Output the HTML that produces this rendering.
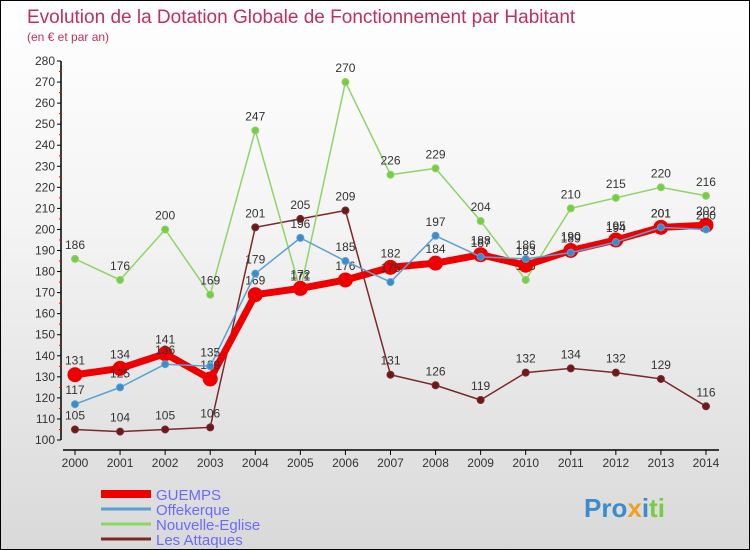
<!DOCTYPE html>
<html><head><meta charset="utf-8"><style>
body{margin:0}
#wrap{position:relative;width:748px;height:548px;border:1px solid #000;background:linear-gradient(#fff 0%,#f4f4f4 40%,#d9d9d9 100%);font-family:"Liberation Sans",sans-serif;overflow:hidden}
</style></head><body>
<div id="wrap">
<svg id="c" width="748" height="548"></svg>
</div>
<script>
const years=[2000,2001,2002,2003,2004,2005,2006,2007,2008,2009,2010,2011,2012,2013,2014];
const guemps=[131,134,141,129,169,172,176,182,184,188,183,190,195,201,202];
const offekerque=[117,125,136,135,179,196,185,175,197,187,186,189,194,201,200];
const nouvelle=[186,176,200,169,247,171,270,226,229,204,176,210,215,220,216];
const attaques=[105,104,105,106,201,205,209,131,126,119,132,134,132,129,116];
const yTicks=[100,110,120,130,140,150,160,170,180,190,200,210,220,230,240,250,260,270,280];
const NS="http://www.w3.org/2000/svg";
const svg=document.getElementById('c');
const x=i=>74+i*45.07;
const y=v=>439-(v-100)*(379/180);
function el(t,a,p){const e=document.createElementNS(NS,t);for(const k in a)e.setAttribute(k,a[k]);(p||svg).appendChild(e);return e;}
function txt(s,a){const e=el('text',a);e.textContent=s;return e;}
let t=txt('Evolution de la Dotation Globale de Fonctionnement par Habitant',{x:26,y:22,'font-size':19,fill:'#c0305a'});

t=txt('(en € et par an)',{x:26,y:40,'font-size':12,fill:'#c0305a'});

let ax=el('line',{x1:60,y1:y(280),x2:60,y2:y(100),stroke:'#000','stroke-width':1.5});

yTicks.forEach(v=>{el('line',{x1:56,x2:60,y1:y(v),y2:y(v),stroke:'#000'});
 if(v<280)el('line',{x1:58,x2:61,y1:y(v+5),y2:y(v+5),stroke:'#e00'});
 const l=txt(v,{x:54,y:y(v)+4,'font-size':12,fill:'#333','text-anchor':'end'});
 });
ax=el('line',{x1:62,y1:449,x2:718,y2:449,stroke:'#000','stroke-width':1.5});

years.forEach((yr,i)=>{el('line',{x1:x(i),x2:x(i),y1:449,y2:454,stroke:'#000'});
 const l=txt(yr,{x:x(i),y:466,'font-size':12,fill:'#333','text-anchor':'middle'});
 });
function series(d,col,w,r,name,dot){
 const g=el('g',{});
 el('polyline',{points:d.map((v,i)=>x(i)+','+y(v)).join(' '),fill:'none',stroke:col,'stroke-width':w,'stroke-linejoin':'round'},g);
 d.forEach((v,i)=>{const c=el('circle',{cx:x(i),cy:y(v),r:r,fill:dot,stroke:col,'stroke-width':1},g);
  
  const l=txt(v,{x:x(i),y:y(v)-10,'font-size':12,fill:'#333','text-anchor':'middle'});
  });
}
series(attaques,'#7a2a2a',1.5,3.5,'les-attaques-series','#6a1a1a');
series(nouvelle,'#8ed468',1.5,3.5,'nouvelle-eglise-series','#77cc44');
series(guemps,'#ee0000',7,7,'guemps-series','#ee0000');
series(offekerque,'#5aa0d0',1.5,3.5,'offekerque-series','#3a8ccc');
const leg=[['GUEMPS','#ee0000',8],['Offekerque','#5aa0d0',3],['Nouvelle-Eglise','#8ed468',3],['Les Attaques','#7a2a2a',3]];
leg.forEach((e,i)=>{const g=el('g',{});
 const yy=493+i*15;el('line',{x1:100,x2:150,y1:yy,y2:yy,stroke:e[1],'stroke-width':e[2]},g);
 const l=el('text',{x:155,y:yy+6,'font-size':15,fill:'#6a6aff'},g);l.textContent=e[0];});
const lg=el('text',{x:583,y:516,'font-size':26,'font-weight':'bold',fill:'#f0a020'});

lg.innerHTML='<tspan fill="#3a8ccc">Pro</tspan><tspan fill="#f0a020">x</tspan><tspan fill="#3a8ccc">i</tspan><tspan fill="#77cc44">ti</tspan>';
</script>
</body></html>
